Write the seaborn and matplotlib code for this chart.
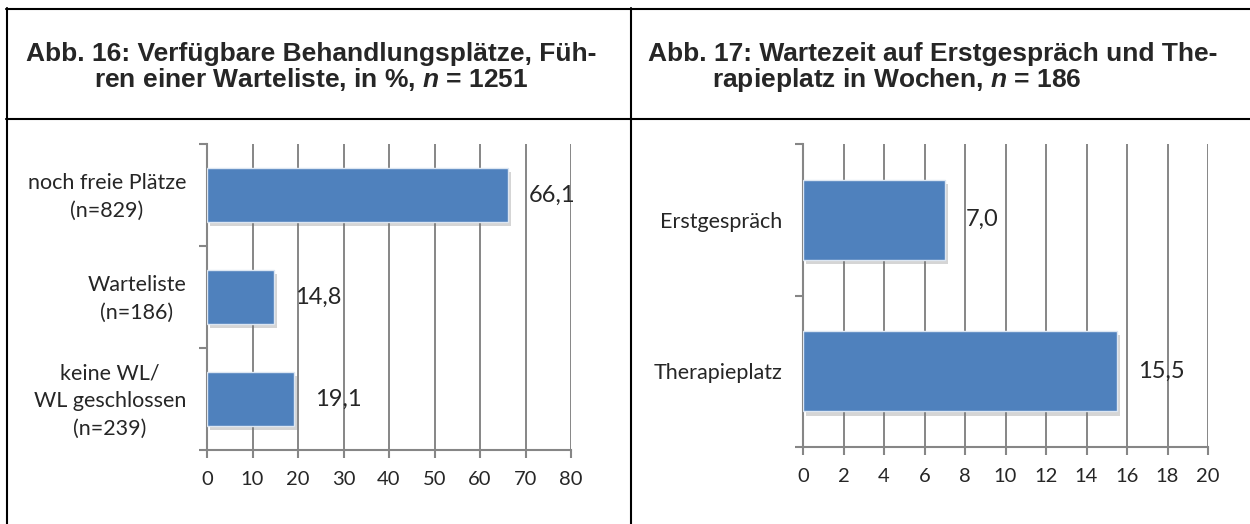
import matplotlib
matplotlib.use("Agg")
import matplotlib.pyplot as plt
import matplotlib.patheffects as pe
import matplotlib.transforms as mtransforms
from matplotlib.lines import Line2D
import seaborn as sns

# data
cats_left = ["noch freie Plätze\n(n=829)", "Warteliste\n(n=186)", "keine WL/\nWL geschlossen\n(n=239)"]
vals_left = [66.1, 14.8, 19.1]
ticks_left = [0, 10, 20, 30, 40, 50, 60, 70, 80]

cats_right = ["Erstgespräch", "Therapieplatz"]
vals_right = [7.0, 15.5]
ticks_right = [0, 2, 4, 6, 8, 10, 12, 14, 16, 18, 20]

title_left = ["Abb. 16: Verfügbare Behandlungsplätze, Füh-", "ren einer Warteliste, in %, $\\bfit{n}$ = 1251"]
title_right = ["Abb. 17: Wartezeit auf Erstgespräch und The-", "rapieplatz in Wochen, $\\bfit{n}$ = 186"]

BLUE = "#4F81BD"
GRID = "#868686"
W, H = 1250, 524

sns.set_style("white")
plt.rcParams["font.family"] = ["Lato", "DejaVu Sans"]
plt.rcParams["mathtext.fontset"] = "custom"
plt.rcParams["mathtext.bfit"] = "Liberation Sans:bold:italic"

fig = plt.figure(figsize=(W / 100, H / 100), dpi=100)


def px(x0, y0, x1, y1):
    # pixel box (top-left origin) -> figure fractions
    return [x0 / W, 1 - y1 / H, (x1 - x0) / W, (y1 - y0) / H]


def draw(ax, cats, vals, ticks):
    sns.barplot(x=vals, y=cats, orient="h", color=BLUE, width=0.53,
                saturation=1, edgecolor="#dce6f2", linewidth=1, ax=ax, zorder=3)
    for p in ax.patches:
        p.set_path_effects([pe.SimplePatchShadow(offset=(2, -3), shadow_rgbFace="#777777", alpha=0.3),
                            pe.Normal()])
    ax.set_xlim(ticks[0], ticks[-1])
    ax.set_xticks(ticks)
    ax.set_xticklabels([str(t) for t in ticks])
    n = len(cats)
    ax.set_ylim(n - 0.5, -0.5)
    ax.set_yticks([i - 0.5 for i in range(n + 1)], minor=True)
    ax.tick_params(axis="y", which="major", length=0, pad=15, labelsize=15.5)
    ax.tick_params(axis="y", which="minor", length=6, width=1.5, color=GRID, left=True)
    ax.tick_params(axis="x", length=6, width=1.5, color=GRID, bottom=True, labelsize=14.5, pad=9)
    # multi-line labels sit a little high in the original
    shift = mtransforms.ScaledTranslation(0, 4 / 100, fig.dpi_scale_trans)
    for lab in ax.get_yticklabels():
        if "\n" in lab.get_text():
            lab.set_multialignment("center")
            lab.set_linespacing(1.5)
            lab.set_transform(lab.get_transform() + shift)
    ax.grid(axis="x", color=GRID, linewidth=1.4)
    ax.set_axisbelow(True)
    for s in ["top", "right"]:
        ax.spines[s].set_visible(False)
    for s in ["left", "bottom"]:
        ax.spines[s].set_color(GRID)
        ax.spines[s].set_linewidth(1.5)
    ax.set_xlabel("")
    ax.set_ylabel("")
    labels = [f"{v:.1f}".replace(".", ",") for v in vals]
    ax.bar_label(ax.containers[0], labels=labels, padding=15, fontsize=17)


ax1 = fig.add_axes(px(207, 144, 571, 450))
draw(ax1, cats_left, vals_left, ticks_left)

ax2 = fig.add_axes(px(803, 144, 1208, 447))
draw(ax2, cats_right, vals_right, ticks_right)

# titles
tkw = dict(fontsize=19, fontweight="bold", family="Liberation Sans", va="baseline")
fig.text(311 / W, 1 - 61 / H, title_left[0], ha="center", **tkw)
fig.text(311 / W, 1 - 87 / H, title_left[1], ha="center", **tkw)
fig.text(648 / W, 1 - 61 / H, title_right[0], ha="left", **tkw)
fig.text(712 / W, 1 - 87 / H, title_right[1], ha="left", **tkw)

# table borders
def hline(y, x0, x1):
    fig.add_artist(Line2D([x0 / W, x1 / W], [1 - y / H, 1 - y / H], color="black", lw=1.5))


def vline(x, y0, y1):
    fig.add_artist(Line2D([x / W, x / W], [1 - y0 / H, 1 - y1 / H], color="black", lw=1.5))


hline(9, 6, W + 5)
hline(118.5, 6, W + 5)
vline(6.5, 8, H + 5)
vline(631, 8, H + 5)

fig.savefig("out.png", dpi=100)
